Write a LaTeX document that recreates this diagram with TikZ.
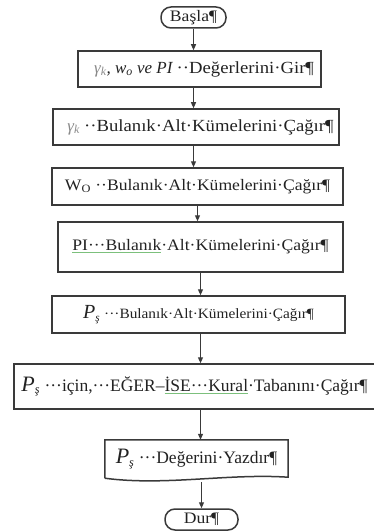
\documentclass[tikz,border=0pt]{standalone}
\usepackage{fontspec}
\setmainfont{Liberation Serif}
\newfontfamily\cam[FakeStretch=1.1]{Liberation Serif}
\newfontfamily\camn[FakeStretch=1.08]{Liberation Serif}
\usetikzlibrary{arrows.meta}
\definecolor{ln}{HTML}{3A3A3A}
\definecolor{tx}{HTML}{222222}
\definecolor{gk}{HTML}{8A8A8A}
\definecolor{sg}{HTML}{7CC07C}
\newcommand\gru[1]{{\color{sg}\underline{\color{tx}#1}}}
\newcommand\sub[1]{\textsubscript{#1}}
\newcommand\bigP[1]{{\fontsize{#1}{#1}\selectfont\itshape P}}
\begin{document}
\begin{tikzpicture}[x=1pt,y=-1pt,
  box/.style={draw=ln, line width=1.5pt, inner sep=0pt, text=tx, font=\fontsize{16}{18}\selectfont},
  term/.style={draw=ln, line width=1.5pt, rounded corners=10pt, minimum height=21pt, inner sep=0pt, text=tx, font=\fontsize{16}{18}\selectfont},
  arr/.style={draw=ln, line width=1pt, -{Triangle[length=6pt,width=5pt]}}]
\useasboundingbox (0,0) rectangle (374,532);

\node[term, minimum width=65pt] (start) at (193.5,17.5) {\cam Başla¶};

\node[box, minimum width=243pt, minimum height=36pt, font=\fontsize{17}{19}\selectfont] (b1) at (199.5,69)
  {\hspace{9pt}{\itshape\color{gk}γ\sub{k}}{\itshape , w\sub{o} ve PI}~{\cam ··Değerlerini·Gir¶}};

\node[box, minimum width=286pt, minimum height=36pt, font=\fontsize{17}{19}\selectfont] (b2) at (196,127)
  {\hspace{9pt}{\itshape\color{gk}γ\sub{k}}~{\cam ··Bulanık·Alt·Kümelerini·Çağır¶}};

\node[box, minimum width=291pt, minimum height=37pt] (b3) at (197.5,186.5)
  {\cam W\sub{O}~··Bulanık·Alt·Kümelerini·Çağır¶};

\node[box, minimum width=285pt, minimum height=50pt] (b4) at (200.5,247)
  {\cam \gru{PI···Bulanık}·Alt·Kümelerini·Çağır¶};

\node[box, minimum width=293pt, minimum height=37pt] (b5) at (198.5,314.5)
  {\bigP{20}\sub{\itshape ş}~{\camn\fontsize{14.2}{16}\selectfont ···Bulanık·Alt·Kümelerini·Çağır¶}\hspace{24pt}};

\node[box, minimum width=361pt, minimum height=45pt, font=\fontsize{17.5}{20}\selectfont] (b6) at (194.5,386.5)
  {\bigP{22}\sub{\itshape ş}~···için,···EĞER–\gru{İSE···Kural}·Tabanını·Çağır¶};

\node[inner sep=0pt, minimum width=183pt, minimum height=38pt, text=tx, font=\fontsize{17.5}{20}\selectfont] (b7) at (196.5,459)
  {\bigP{22}\sub{\itshape ş}~···Değerini·Yazdır¶};
\draw[ln, line width=1.5pt] (b7.south west) -- (b7.north west) -- (b7.north east) -- ([yshift=1pt]b7.south east)
  .. controls ([xshift=-60pt,yshift=5pt]b7.south east) and ([xshift=60pt,yshift=-8pt]b7.south west) .. (b7.south west);

\node[term, minimum width=73pt] (stop) at (201.5,519.5) {\cam Dur¶};

\draw[arr] (start.south) -- (b1.north -| start.south);
\draw[arr] (b1.south -| start.south) -- (b2.north -| start.south);
\draw[arr] (b2.south -| start.south) -- (b3.north -| start.south);
\draw[arr] (b3.south) -- (b3.south |- b4.north);
\draw[arr] (b4.south) -- (b4.south |- b5.north);
\draw[arr] (b4.south |- b5.south) -- (b4.south |- b6.north);
\draw[arr] (b4.south |- b6.south) -- (b4.south |- b7.north);
\draw[arr] ([yshift=-4pt]stop.north |- b7.south) -- (stop.north);
\end{tikzpicture}
\end{document}
